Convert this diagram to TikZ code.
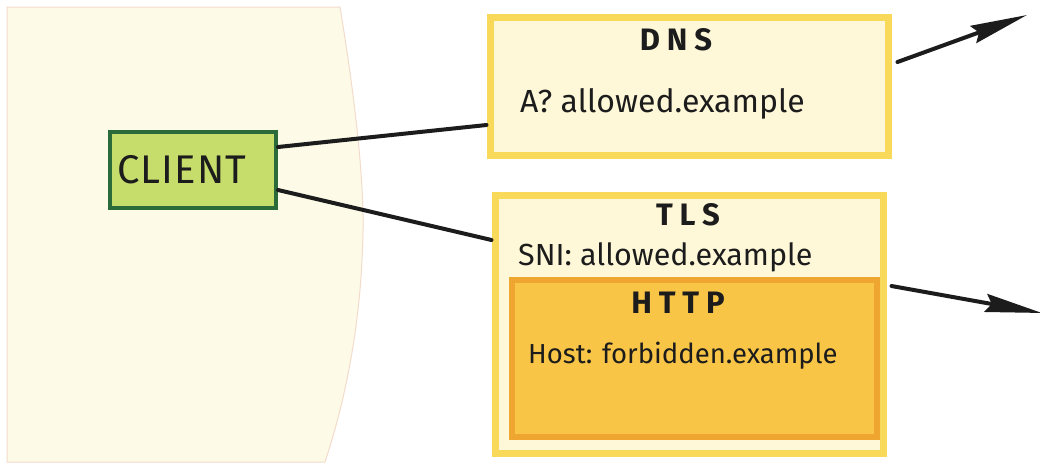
\documentclass[tikz,border=0pt]{standalone}
\usepackage{fontspec}
\setmainfont{Fira Sans}
\usetikzlibrary{arrows.meta,calc}
\definecolor{cream}{HTML}{FDFAE8}
\definecolor{blobedge}{HTML}{F3DCCB}
\definecolor{clientfill}{HTML}{C6DD6C}
\definecolor{clientedge}{HTML}{2B6B3A}
\definecolor{paleyellow}{HTML}{FEF8D8}
\definecolor{yedge}{HTML}{F8D95A}
\definecolor{httpfill}{HTML}{F8C547}
\definecolor{httpedge}{HTML}{EFA631}
\definecolor{ink}{HTML}{1C1C1C}
\tikzset{
  boxbase/.style={draw, inner sep=0pt, anchor=center},
  clientbox/.style={boxbase, fill=clientfill, draw=clientedge, line width=4pt,
    minimum width=166pt, minimum height=76pt, text width=152pt, align=left,
    inner xsep=7pt, font=\fontsize{40}{42}\selectfont\addfontfeatures{LetterSpace=3}, text=ink},
  layerbox/.style={boxbase, fill=paleyellow, draw=yedge, line width=7pt},
  httpbox/.style={boxbase, fill=httpfill, draw=httpedge, line width=6pt},
  title/.style={font=\fontsize{31}{33}\selectfont\bfseries\addfontfeatures{LetterSpace=22}, text=ink, inner sep=0pt, anchor=center},
  body/.style={text=ink, inner sep=0pt, anchor=base west},
  wire/.style={draw=ink, line width=4pt, line cap=round},
  arrowwire/.style={wire, -{Stealth[length=57pt,width=18pt,inset=6pt]}},
}
\begin{document}
\begin{tikzpicture}[x=1pt,y=-1pt]
\useasboundingbox (0,0) rectangle (1040,463);
\fill[white] (0,0) rectangle (1040,463);
% background wash
\path[fill=cream, draw=blobedge, line width=1pt]
  (7,7) -- (340,7) .. controls (352,80) and (364,170) .. (363,230)
  .. controls (362,300) and (352,380) .. (325,462) -- (7,462) -- cycle;
% boxes
\node[clientbox] (client) at (193,170) {CLIENT};
\node[layerbox, minimum width=398pt, minimum height=138pt] (dns) at (689,86) {};
\node[layerbox, minimum width=388pt, minimum height=258pt] (tls) at (689,324) {};
\node[httpbox, minimum width=365pt, minimum height=157pt] (http) at (694.5,358.5) {};
% texts
\node[title] (dnstitle) at (676,40) {DNS};
\node[body, font=\fontsize{32}{34}\selectfont] (dnsq) at (520,112) {A? allowed.example};
\node[title] (tlstitle) at (688,215) {TLS};
\node[body, font=\fontsize{30.5}{32}\selectfont] (sni) at (518,265) {SNI: allowed.example};
\node[title] (httptitle) at (678,303) {HTTP};
\node[body, font=\fontsize{27.5}{30}\selectfont] (host) at (528,363) {Host: forbidden.example};
% connectors
\coordinate (dnsout) at (1027,15);
\coordinate (tlsout) at (1042,313);
\draw[wire] ([yshift=23pt]client.east) -- ([yshift=-39pt]dns.west);
\draw[wire] ([yshift=-20pt]client.east) -- ([yshift=84pt]tls.west);
\draw[arrowwire] ([xshift=6pt,yshift=24pt]dns.east) -- (dnsout);
\draw[arrowwire] ([xshift=5pt,yshift=38pt]tls.east) -- (tlsout);
\end{tikzpicture}
\end{document}
